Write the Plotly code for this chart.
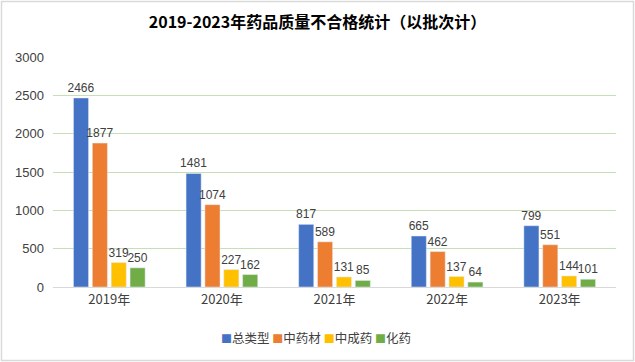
import plotly.graph_objects as go

years = ["2019年", "2020年", "2021年", "2022年", "2023年"]
series_names = ["总类型", "中药材", "中成药", "化药"]
total = [2466, 1481, 817, 665, 799]
herbs = [1877, 1074, 589, 462, 551]
patent = [319, 227, 131, 137, 144]
chem = [250, 162, 85, 64, 101]
colors = ["#4472C4", "#ED7D31", "#FFC000", "#70AD47"]
y_ticks = [0, 500, 1000, 1500, 2000, 2500, 3000]

font_family = "Liberation Sans, Noto Sans CJK SC, sans-serif"
cjk = "Noto Sans CJK SC, sans-serif"

L, R, T, B = 53, 19, 57, 75
PW, PH = 635 - L - R, 362 - T - B

fig = go.Figure()
for name, vals, c in zip(series_names, [total, herbs, patent, chem], colors):
    fig.add_trace(go.Bar(
        x=years, y=vals, name=name, marker_color=c,
        text=[str(v) for v in vals], textposition="outside",
        constraintext="none",
        textfont=dict(size=12, color="#404040", family=font_family),
        cliponaxis=False,
    ))

legend_text = " ".join(
    f"<span style='color:{c};font-size:11px'>■</span>{n}" for n, c in zip(series_names, colors)
)

fig.update_layout(
    width=635, height=362,
    margin=dict(l=L, r=R, t=T, b=B, autoexpand=False),
    paper_bgcolor="white", plot_bgcolor="white",
    barmode="group", bargap=0.33, bargroupgap=0.2,
    title=dict(text="<b>2019-2023年药品质量不合格统计（以批次计）</b>",
               x=0.5, xanchor="center", y=1 - 22 / 362, yanchor="middle",
               font=dict(size=16, color="#000000", family=cjk)),
    font=dict(family=font_family, color="#404040", size=13),
    showlegend=False,
    annotations=[dict(text=legend_text, xref="paper", yref="paper",
                      x=(316 - L) / PW, y=-50 / PH, xanchor="center", yanchor="middle",
                      showarrow=False, font=dict(size=12.5, color="#404040", family=cjk))],
)
fig.update_yaxes(range=[0, 3000], tickvals=y_ticks, showgrid=True, gridcolor="#C5E0B4",
                 gridwidth=1, zeroline=False, showline=False, ticks="",
                 ticklabelstandoff=8,
                 tickfont=dict(size=13, color="#404040"))
fig.update_xaxes(showline=True, linecolor="#D9D9D9", linewidth=1, ticks="",
                 tickfont=dict(size=13, color="#404040", family=cjk))

fig.add_shape(type="rect", xref="paper", yref="paper",
              x0=-(L - 1.5) / PW, x1=1 + (R - 1.5) / PW,
              y0=-(B - 1.5) / PH, y1=1 + (T - 1.5) / PH,
              line=dict(color="#D9D9D9", width=1.5), fillcolor="rgba(0,0,0,0)")

fig.write_html("out.html", config={"displayModeBar": False},
               post_script="document.body.style.margin='0';document.body.style.overflow='hidden';")
